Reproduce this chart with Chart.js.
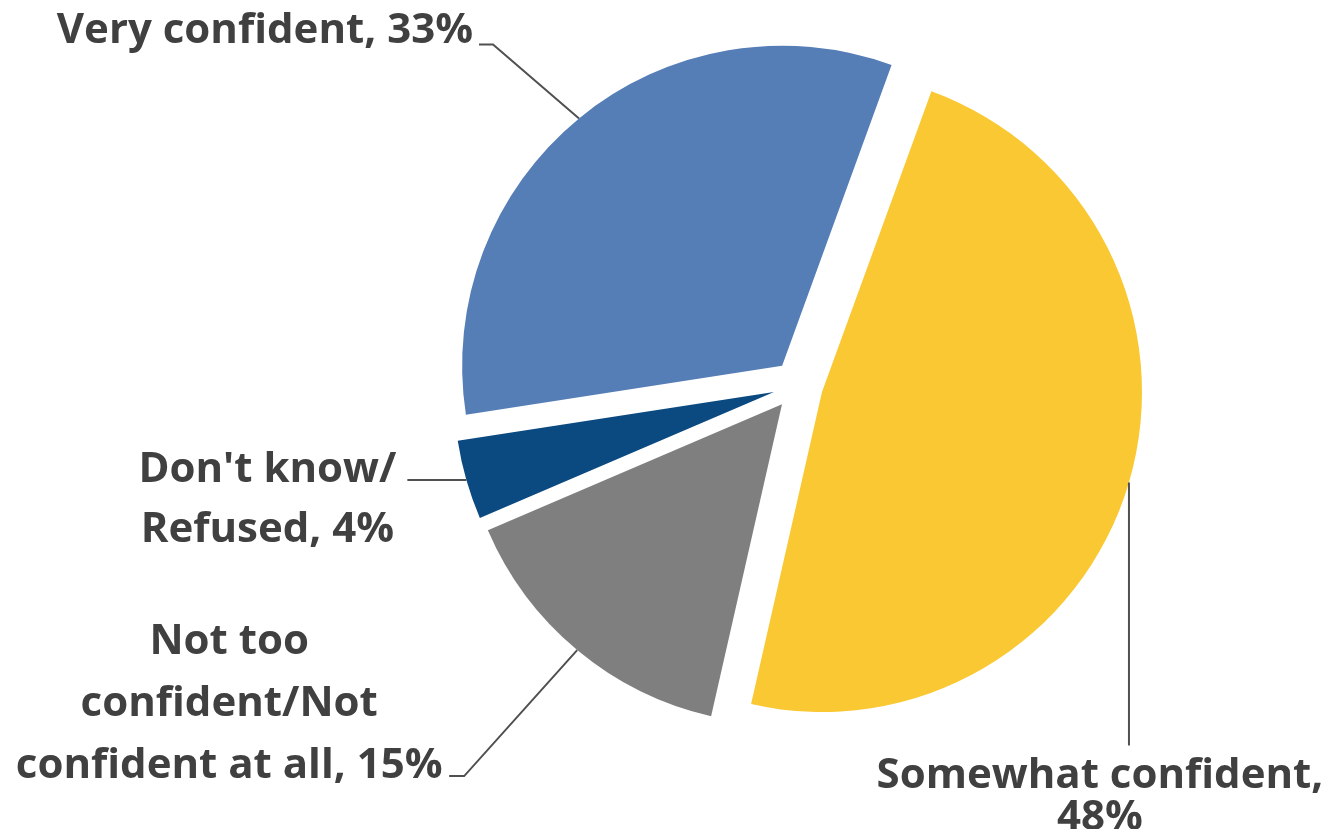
<!DOCTYPE html>
<html>
<head>
<meta charset="utf-8">
<script src="https://cdn.jsdelivr.net/npm/chart.js@4.4.0/dist/chart.umd.min.js"></script>
<style>
    html, body { margin: 0; padding: 0; background: #fff; }
    #wrap { width: 1336px; height: 829px; position: relative; }
</style>
</head>
<body>
<div id="wrap"><canvas id="pieChart"></canvas></div>
<script>
// Data, in drawing order (clockwise from the rotation start)
const categories = ['Somewhat confident', 'Not too confident/Not confident at all', "Don't know/Refused", 'Very confident'];
const values = [48, 15, 4, 33];
const sliceColors = ['#F9C832', '#7F7F7F', '#0B4A80', '#557EB6'];

// Wrapped label text, as in the original
const labelLines = [
    ['Somewhat confident,', values[0] + '%'],
    ['Not too', 'confident/Not', 'confident at all, ' + values[1] + '%'],
    ["Don't know/", 'Refused, ' + values[2] + '%'],
    ['Very confident, ' + values[3] + '%']
];

// Leader line bends and text spots, relative to the point where the line meets the slice
const labelLayout = [
    { bends: [[0, 263]], text: [-29, 306], gap: 42, align: 'center' },
    { bends: [[-113, 126], [-128, 126]], text: [-348, 4], gap: 62, align: 'center' },
    { bends: [[-59, 0]], text: [-199, 2], gap: 60, align: 'center' },
    { bends: [[-86, -74], [-100, -74]], text: [-106, -75], gap: 0, align: 'right' }
];

const EXPLODE = 25;
const FONT = '700 42px "Open Sans"';

// Draw each slice pushed out along its middle angle
const explodePlugin = {
    id: 'explode',
    beforeDatasetDraw(chart, args) {
        const ctx = chart.ctx;
        args.meta.data.forEach(arc => {
            const mid = (arc.startAngle + arc.endAngle) / 2;
            ctx.save();
            ctx.translate(Math.cos(mid) * EXPLODE, Math.sin(mid) * EXPLODE);
            arc.draw(ctx);
            ctx.restore();
        });
        return false;
    }
};

// Outside labels with leader lines
const labelPlugin = {
    id: 'outsideLabels',
    afterDatasetsDraw(chart) {
        const ctx = chart.ctx;
        const meta = chart.getDatasetMeta(0);
        meta.data.forEach((arc, i) => {
            const mid = (arc.startAngle + arc.endAngle) / 2;
            const cx = arc.x + Math.cos(mid) * EXPLODE;
            const cy = arc.y + Math.sin(mid) * EXPLODE;
            const ax = cx + Math.cos(mid) * arc.outerRadius;
            const ay = cy + Math.sin(mid) * arc.outerRadius;
            const lay = labelLayout[i];

            ctx.save();
            ctx.strokeStyle = '#505050';
            ctx.lineWidth = 2;
            ctx.beginPath();
            ctx.moveTo(ax, ay);
            lay.bends.forEach(b => ctx.lineTo(ax + b[0], ay + b[1]));
            ctx.stroke();

            ctx.fillStyle = '#404040';
            ctx.font = FONT;
            ctx.textAlign = lay.align;
            ctx.textBaseline = 'alphabetic';
            labelLines[i].forEach((line, j) => {
                ctx.fillText(line, ax + lay.text[0], ay + lay.text[1] + j * lay.gap);
            });
            ctx.restore();
        });
    }
};

new Chart(document.getElementById('pieChart').getContext('2d'), {
    type: 'pie',
    data: {
        labels: categories,
        datasets: [{
            data: values,
            backgroundColor: sliceColors,
            borderWidth: 0,
            radius: 320
        }]
    },
    options: {
        responsive: true,
        maintainAspectRatio: false,
        animation: false,
        rotation: 20,
        layout: { padding: { left: 260, right: 0, top: 0, bottom: 59 } },
        plugins: {
            legend: { display: false },
            tooltip: { enabled: false }
        }
    },
    plugins: [explodePlugin, labelPlugin]
});
</script>
</body>
</html>
